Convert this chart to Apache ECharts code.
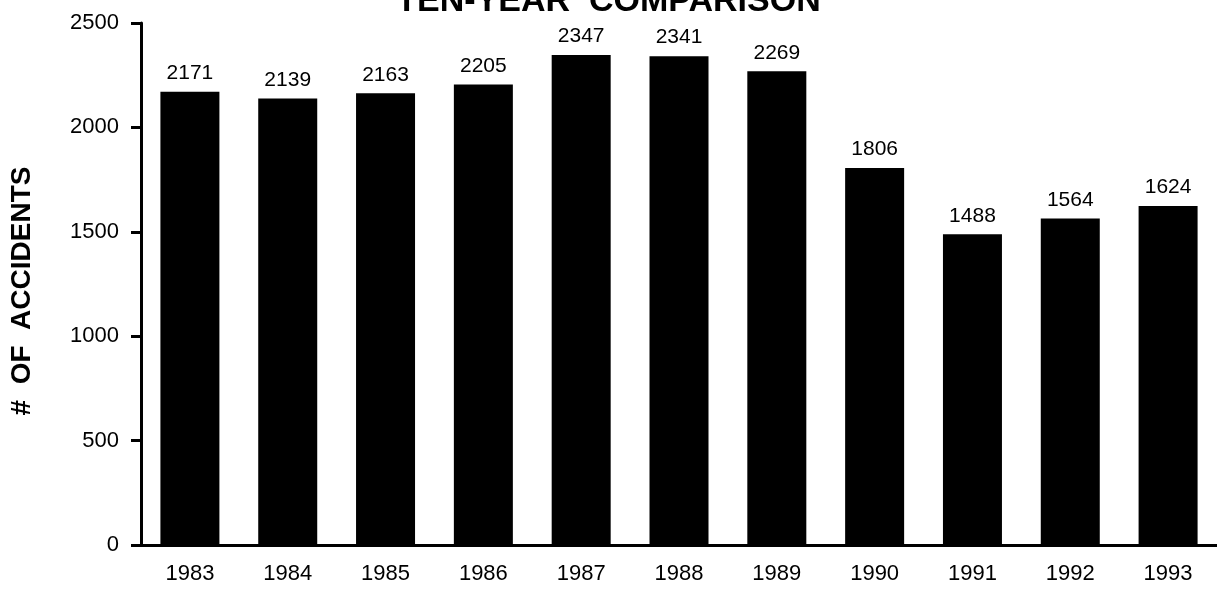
<!DOCTYPE html>
<html>
<head>
<meta charset="utf-8">
<script src="https://cdn.jsdelivr.net/npm/echarts@6/dist/echarts.min.js"></script>
<style>
  html, body { margin: 0; padding: 0; background: #fff; }
  #main { width: 1217px; height: 594px; }
</style>
</head>
<body>
<div id="main"></div>
<script>
// data
var years = ['1983', '1984', '1985', '1986', '1987', '1988', '1989', '1990', '1991', '1992', '1993'];
var accidents = [2171, 2139, 2163, 2205, 2347, 2341, 2269, 1806, 1488, 1564, 1624];
var yTicks = [0, 500, 1000, 1500, 2000, 2500];

var font = '"Liberation Sans", Arial, Helvetica, sans-serif';
var chart = echarts.init(document.getElementById('main'));

chart.setOption({
    backgroundColor: '#ffffff',
    animation: false,
    title: {
        text: 'TEN-YEAR  COMPARISON',
        left: 'center',
        top: -20,
        textStyle: { fontFamily: font, fontWeight: 'bold', fontSize: 34, color: '#000' }
    },
    grid: { left: 140, right: -9, top: 23, bottom: 49 },
    xAxis: {
        type: 'category',
        data: years,
        axisLine: { lineStyle: { color: '#000', width: 3 } },
        axisTick: { alignWithLabel: true, length: 13, lineStyle: { color: '#000', width: 3 } },
        axisLabel: { color: '#000', fontFamily: font, fontSize: 22, margin: 18 }
    },
    yAxis: {
        type: 'value',
        min: yTicks[0],
        max: yTicks[yTicks.length - 1],
        interval: 500,
        name: '#  OF  ACCIDENTS',
        nameLocation: 'middle',
        nameGap: 105,
        nameTextStyle: { fontFamily: font, fontWeight: 'bold', fontSize: 28, color: '#000', padding: [0, 14, 0, 0] },
        axisLine: { show: true, lineStyle: { color: '#000', width: 3 } },
        axisTick: { show: true, length: 10, lineStyle: { color: '#000', width: 3 } },
        axisLabel: {
            color: '#000', fontFamily: font, fontSize: 22, margin: 22,
            formatter: function (v) { return String(v); }
        },
        splitLine: { show: false }
    },
    series: [{
        type: 'bar',
        data: accidents,
        barWidth: 59,
        itemStyle: { color: '#000' },
        label: {
            show: true,
            position: 'top',
            distance: 8,
            color: '#000',
            fontFamily: font,
            fontSize: 21
        }
    }]
});
</script>
</body>
</html>
